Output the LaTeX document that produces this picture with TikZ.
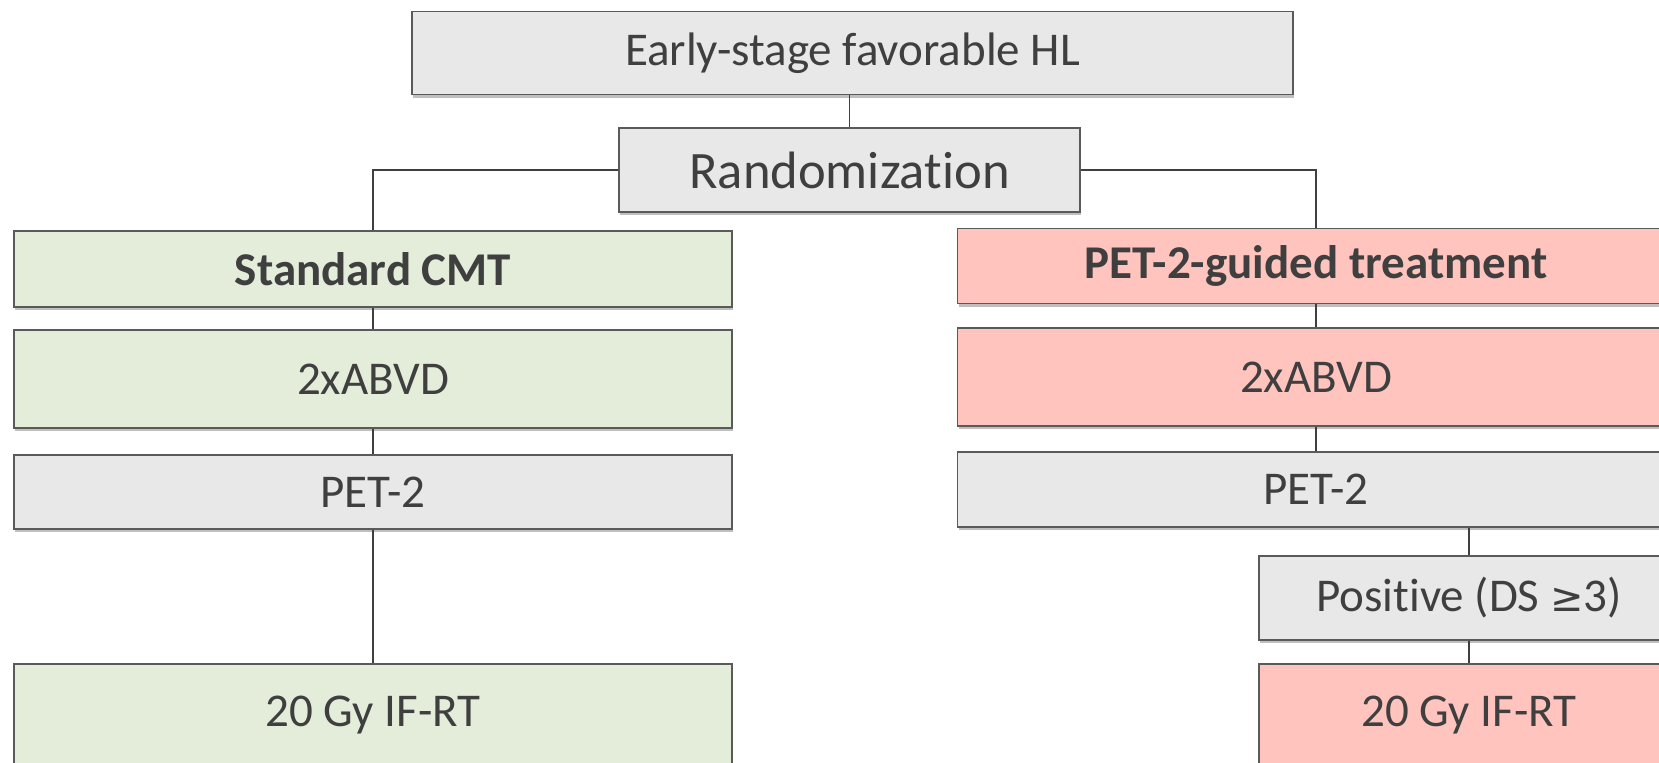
\documentclass[tikz,border=0pt]{standalone}
\usepackage{fontspec}
\setmainfont{Carlito}[Ligatures=NoCommon, RawFeature={-calt}]
\usetikzlibrary{shadows}
\definecolor{boxgray}{HTML}{E7E8E7}
\definecolor{boxgreen}{HTML}{E4EDDA}
\definecolor{boxpink}{HTML}{FFC4BD}
\definecolor{txt}{HTML}{3F3F3F}
\definecolor{edge}{HTML}{5A5A5A}
\tikzset{
  box/.style={draw=edge, line width=0.6pt, text=txt, inner sep=0pt,
    font=\fontsize{23.5}{28}\selectfont,
    drop shadow={shadow xshift=0.6pt, shadow yshift=-1.6pt, opacity=0.25, fill=black}},
  graybox/.style={box, fill=boxgray},
  greenbox/.style={box, fill=boxgreen},
  pinkbox/.style={box, fill=boxpink},
  conn/.style={draw=txt, line width=0.75pt},
}
\begin{document}
\begin{tikzpicture}[x=0.5pt,y=-0.5pt]
\useasboundingbox (0,0) rectangle (1659,762);
\clip (0,0) rectangle (1659,762);
\fill[white] (0,0) rectangle (1659,762);
% nodes
\node[graybox, minimum width=440.5pt, minimum height=41.75pt] (top) at (852.5,53) {Early-stage favorable HL};
\node[graybox, minimum width=230.5pt, minimum height=42pt, font=\fontsize{26.3}{31}\selectfont] (rand) at (849.5,170) {Randomizat\kern0pt ion};
\node[greenbox, minimum width=359pt, minimum height=38pt, font=\fontsize{23.5}{28}\selectfont\bfseries] (l1) at (373,269) {Standard CMT};
\node[greenbox, minimum width=359pt, minimum height=49pt] (l2) at (373,379) {2xABVD};
\node[graybox, minimum width=359pt, minimum height=37pt] (l3) at (373,492) {PET-2};
\node[greenbox, minimum width=359pt, minimum height=51pt] (l4) at (373,715) {20 Gy IF-RT};
\node[pinkbox, minimum width=358.5pt, minimum height=37.5pt, font=\fontsize{23.5}{28}\selectfont\bfseries] (r1) at (1316,266) {PET-2-guided treatment};
\node[pinkbox, minimum width=358.5pt, minimum height=49pt] (r2) at (1316,377) {2xABVD};
\node[graybox, minimum width=358.5pt, minimum height=37.5pt] (r3) at (1316,489.5) {PET-2};
\node[graybox, minimum width=210pt, minimum height=42pt] (pos) at (1469,598) {Posit\kern0pt ive (DS {\fontspec{DejaVu Sans}\fontsize{20}{24}\selectfont ≥}3)};
\node[pinkbox, minimum width=210pt, minimum height=51pt] (r4) at (1469,715) {20 Gy IF-RT};
% connectors
\draw[conn] (top.south -| rand.north) -- (rand.north);
\draw[conn] (rand.west) -| (l1.north);
\draw[conn] (rand.east) -| (r1.north);
\draw[conn] (l1.south) -- (l2.north);
\draw[conn] (l2.south) -- (l3.north);
\draw[conn] (l3.south) -- (l4.north);
\draw[conn] (r1.south) -- (r2.north);
\draw[conn] (r2.south) -- (r3.north);
\draw[conn] (r3.south -| pos.north) -- (pos.north);
\draw[conn] (pos.south) -- (r4.north);
\end{tikzpicture}
\end{document}
